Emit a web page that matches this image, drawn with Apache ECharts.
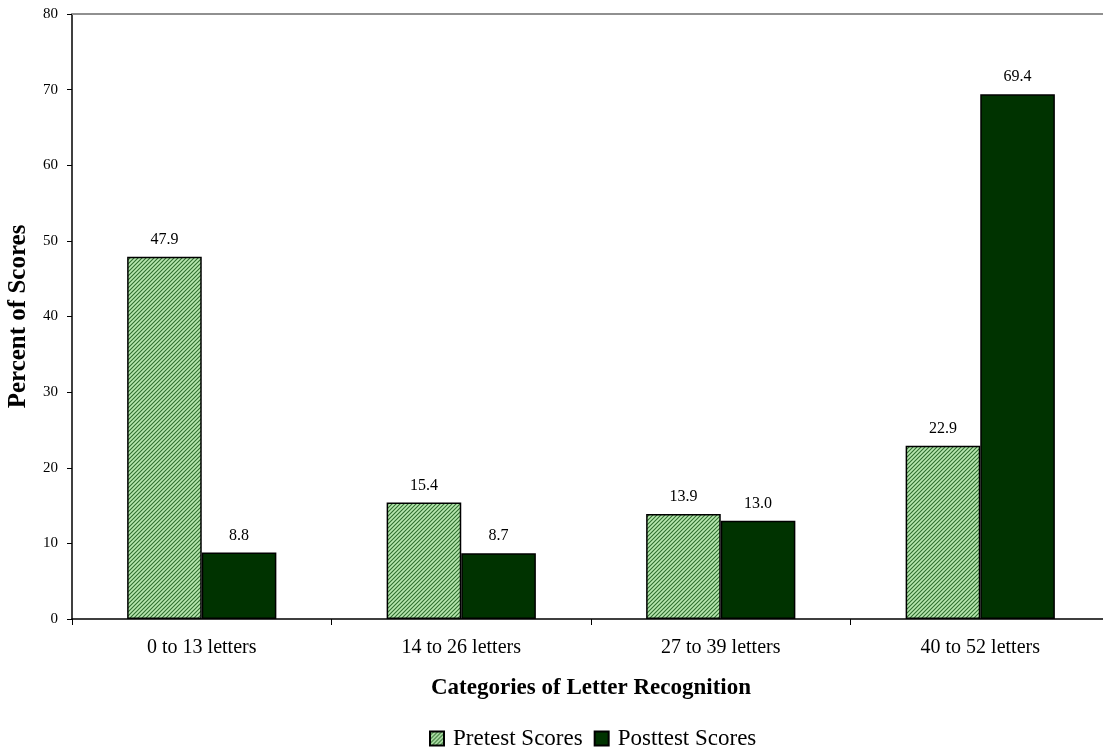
<!DOCTYPE html>
<html>
<head>
<meta charset="utf-8">
<script src="https://cdn.jsdelivr.net/npm/echarts@6/dist/echarts.min.js"></script>
<style>
  html, body { margin: 0; padding: 0; background: #fff; }
  #chart { width: 1103px; height: 752px; }
</style>
</head>
<body>
<div id="chart"></div>
<script>
const categories = ['0 to 13 letters', '14 to 26 letters', '27 to 39 letters', '40 to 52 letters'];
const pretest = [47.9, 15.4, 13.9, 22.9];
const posttest = [8.8, 8.7, 13.0, 69.4];
const seriesNames = ['Pretest Scores', 'Posttest Scores'];

// Diagonal hatch fill for the pretest bars
function makeHatch() {
  const c = document.createElement('canvas');
  c.width = 4; c.height = 4;
  const g = c.getContext('2d');
  g.fillStyle = '#b8e8b0';
  g.fillRect(0, 0, 4, 4);
  g.strokeStyle = '#2f6e2f';
  g.lineWidth = 1.1;
  g.beginPath();
  g.moveTo(0, 4); g.lineTo(4, 0);
  g.moveTo(-1, 1); g.lineTo(1, -1);
  g.moveTo(3, 5); g.lineTo(5, 3);
  g.stroke();
  return c;
}
const hatch = { image: makeHatch(), repeat: 'repeat' };

const font = '"Liberation Serif", "Times New Roman", serif';
const chart = echarts.init(document.getElementById('chart'));

const labelStyle = {
  show: true,
  position: 'top',
  distance: 9,
  fontFamily: font,
  fontSize: 16,
  color: '#000',
  formatter: p => p.value.toFixed(1)
};

chart.setOption({
  animation: false,
  textStyle: { fontFamily: font },
  grid: { left: 72, right: -7, top: 14, bottom: 133, outerBoundsMode: 'none' },
  legend: {
    top: 722,
    left: 424,
    itemWidth: 14,
    itemHeight: 14,
    itemGap: 11,
    icon: 'rect',
    textStyle: { fontFamily: font, fontSize: 23, color: '#000', padding: [0, 0, 0, 4] },
    data: seriesNames
  },
  xAxis: [{
    type: 'category',
    data: categories,
    name: 'Categories of Letter Recognition',
    nameLocation: 'middle',
    nameGap: 58,
    nameTextStyle: { fontFamily: font, fontSize: 23, fontWeight: 'bold', color: '#000' },
    axisLine: { lineStyle: { color: '#000', width: 1.5 } },
    axisTick: { show: true, length: 6, lineStyle: { color: '#000' } },
    axisLabel: { fontFamily: font, fontSize: 20, color: '#000', margin: 19 }
  }, {
    type: 'category',
    data: categories,
    position: 'top',
    axisLine: { lineStyle: { color: '#909090', width: 2 } },
    axisTick: { show: false },
    axisLabel: { show: false }
  }],
  yAxis: {
    type: 'value',
    min: 0,
    max: 80,
    interval: 10,
    name: 'Percent of Scores',
    nameLocation: 'middle',
    nameGap: 41,
    nameTextStyle: { fontFamily: font, fontSize: 25, fontWeight: 'bold', color: '#000' },
    axisLine: { show: true, lineStyle: { color: '#000', width: 1.5 } },
    axisTick: { show: true, length: 5, lineStyle: { color: '#000' } },
    axisLabel: { fontFamily: font, fontSize: 15, color: '#000', margin: 14 },
    splitLine: { show: false }
  },
  series: [{
    name: seriesNames[0],
    type: 'bar',
    data: pretest,
    barGap: '0%',
    barCategoryGap: '42.5%',
    itemStyle: { color: hatch, borderColor: '#000', borderWidth: 1.5 },
    label: labelStyle
  }, {
    name: seriesNames[1],
    type: 'bar',
    data: posttest,
    itemStyle: { color: '#003300', borderColor: '#000', borderWidth: 1.5 },
    label: labelStyle
  }]
});
</script>
</body>
</html>
